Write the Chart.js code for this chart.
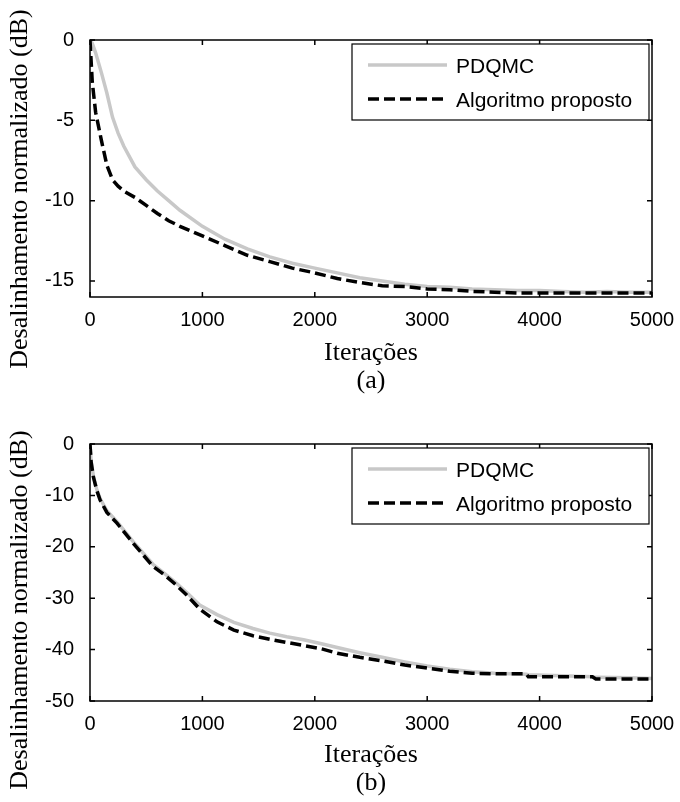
<!DOCTYPE html>
<html>
<head>
<meta charset="utf-8">
<script src="https://cdn.jsdelivr.net/npm/chart.js@4"></script>
<style>
  body { margin: 0; background: #fff; }
  .plot { position: absolute; left: 0; }
</style>
</head>
<body>
<div class="plot" style="top:0"><canvas id="chartA" width="680" height="400"></canvas></div>
<div class="plot" style="top:400px"><canvas id="chartB" width="680" height="402"></canvas></div>
<script>
// shared axis ticks
const xTicks = [0, 1000, 2000, 3000, 4000, 5000];
const yTicksA = [0, -5, -10, -15];
const yTicksB = [0, -10, -20, -30, -40, -50];

const seriesNames = ['PDQMC', 'Algoritmo proposto'];
const yTitle = 'Desalinhamento normalizado (dB)';
const xTitle = 'Iterações';

// (a) iterations and misalignment in dB
const itA = [0, 20, 50, 100, 150, 200, 250, 300, 400, 500, 600, 700, 800, 1000, 1200, 1400,
  1600, 1800, 2000, 2200, 2400, 2600, 2800, 3000, 3200, 3400, 3600, 3800, 4000, 4200, 4400,
  4600, 4800, 5000];
const pdqmcA = [0, -0.2, -0.8, -2.0, -3.3, -4.8, -5.8, -6.6, -7.9, -8.7, -9.4, -10.0, -10.6,
  -11.6, -12.4, -13.0, -13.5, -13.9, -14.2, -14.5, -14.8, -15.0, -15.2, -15.35, -15.4, -15.5,
  -15.55, -15.6, -15.6, -15.65, -15.7, -15.65, -15.7, -15.7];
const propostoA = [0, -2.6, -4.5, -6.2, -7.8, -8.7, -9.1, -9.4, -9.8, -10.3, -10.8, -11.25,
  -11.6, -12.2, -12.8, -13.4, -13.8, -14.2, -14.5, -14.85, -15.1, -15.3, -15.35, -15.5,
  -15.55, -15.65, -15.7, -15.75, -15.75, -15.75, -15.75, -15.75, -15.75, -15.75];

// (b)
const itB = [0, 10, 30, 60, 90, 150, 240, 380, 560, 670, 770, 870, 980, 1130, 1280, 1450, 1600,
  1750, 1900, 2050, 2200, 2400, 2600, 2800, 3000, 3200, 3400, 3600, 3880, 3900, 4200, 4470,
  4500, 4800, 5000];
const pdqmcB = [0, -3.3, -6.2, -8.8, -10.6, -13.0, -15.1, -18.9, -23.4, -25.3, -27.1, -29.1,
  -31.4, -33.2, -34.7, -35.9, -36.8, -37.5, -38.1, -38.8, -39.6, -40.6, -41.5, -42.4, -43.2,
  -43.8, -44.3, -44.6, -44.8, -44.9, -45.1, -45.3, -45.4, -45.5, -45.6];
const propostoB = [0, -3.5, -6.4, -9.0, -10.9, -13.3, -15.4, -19.2, -23.8, -25.6, -27.5,
  -29.6, -32.2, -34.6, -36.2, -37.3, -38.0, -38.6, -39.2, -39.8, -40.7, -41.5, -42.2, -43.0,
  -43.6, -44.2, -44.6, -44.7, -44.7, -45.3, -45.3, -45.3, -45.7, -45.7, -45.7];

const serif = "'Liberation Serif', 'Times New Roman', serif";
const sans = "'Liberation Sans', Arial, sans-serif";

// box around the axes, inward ticks on all four sides, legend and y label
const matlabFrame = {
  id: 'matlabFrame',
  afterDatasetsDraw(chart, args, opts) {
    const { ctx, chartArea: a, scales: { x, y } } = chart;
    ctx.save();
    ctx.strokeStyle = '#000';
    ctx.lineWidth = 1.5;
    ctx.strokeRect(a.left, a.top, a.right - a.left, a.bottom - a.top);
    ctx.beginPath();
    x.ticks.forEach(t => {
      const px = x.getPixelForValue(t.value);
      ctx.moveTo(px, a.bottom); ctx.lineTo(px, a.bottom - 5);
      ctx.moveTo(px, a.top); ctx.lineTo(px, a.top + 5);
    });
    y.ticks.forEach(t => {
      const py = y.getPixelForValue(t.value);
      ctx.moveTo(a.left, py); ctx.lineTo(a.left + 5, py);
      ctx.moveTo(a.right, py); ctx.lineTo(a.right - 5, py);
    });
    ctx.stroke();

    // legend box in the upper right corner
    const w = 297, h = 76;
    const lx = a.right - 3 - w, ly = a.top + 4;
    ctx.fillStyle = '#fff';
    ctx.fillRect(lx, ly, w, h);
    ctx.lineWidth = 1.2;
    ctx.strokeRect(lx, ly, w, h);
    ctx.font = '21px ' + sans;
    ctx.textBaseline = 'middle';
    chart.data.datasets.forEach((ds, i) => {
      const ry = ly + 21 + i * 34;
      ctx.beginPath();
      ctx.strokeStyle = ds.borderColor;
      ctx.lineWidth = ds.borderWidth;
      ctx.setLineDash(ds.borderDash || []);
      ctx.moveTo(lx + 16, ry);
      ctx.lineTo(lx + 95, ry);
      ctx.stroke();
      ctx.setLineDash([]);
      ctx.fillStyle = '#000';
      ctx.fillText(ds.label, lx + 104, ry + 2);
    });

    // rotated y label
    ctx.translate(opts.titleX, opts.titleY);
    ctx.rotate(-Math.PI / 2);
    ctx.font = '26px ' + serif;
    ctx.textAlign = 'center';
    ctx.fillText(yTitle, 0, 0);
    ctx.restore();
  }
};

function makeChart(id, its, pdqmc, proposto, yMin, yTicks, tag, plotTop, plotBottom, titleY) {
  const canvas = document.getElementById(id);
  return new Chart(canvas, {
    type: 'line',
    data: {
      datasets: [
        {
          label: seriesNames[0],
          data: its.map((v, i) => ({ x: v, y: pdqmc[i] })),
          borderColor: '#c8c8c8',
          borderWidth: 3.5,
          pointRadius: 0,
          tension: 0,
          order: 1
        },
        {
          label: seriesNames[1],
          data: its.map((v, i) => ({ x: v, y: proposto[i] })),
          borderColor: '#000',
          borderWidth: 3.5,
          borderDash: [11, 5],
          pointRadius: 0,
          tension: 0,
          order: 0
        }
      ]
    },
    options: {
      responsive: false,
      animation: false,
      layout: { padding: { top: plotTop, right: 28, left: 0, bottom: 0 } },
      plugins: {
        legend: { display: false },
        tooltip: { enabled: false },
        matlabFrame: { titleX: 20, titleY: titleY }
      },
      scales: {
        x: {
          type: 'linear',
          min: 0,
          max: 5000,
          afterBuildTicks: s => { s.ticks = xTicks.map(v => ({ value: v })); },
          afterFit: s => { s.height = canvas.height - plotBottom; },
          grid: { display: false },
          border: { display: false },
          ticks: {
            color: '#000',
            font: { family: sans, size: 20 },
            padding: 3,
            maxRotation: 0,
            callback: v => String(v)
          },
          title: {
            display: true,
            text: [xTitle, tag],
            color: '#000',
            font: { family: serif, size: 26, lineHeight: '28px' },
            padding: { top: 0, bottom: 5 }
          }
        },
        y: {
          min: yMin,
          max: 0,
          afterBuildTicks: s => { s.ticks = yTicks.map(v => ({ value: v })); },
          afterFit: s => { s.width = 90; },
          grid: { display: false },
          border: { display: false },
          ticks: { color: '#000', font: { family: sans, size: 20 }, padding: 8, callback: v => String(v) }
        }
      }
    },
    plugins: [matlabFrame]
  });
}

makeChart('chartA', itA, pdqmcA, propostoA, -16, yTicksA, '(a)', 40, 297, 189);
makeChart('chartB', itB, pdqmcB, propostoB, -50, yTicksB, '(b)', 44, 301, 210);
</script>
</body>
</html>
